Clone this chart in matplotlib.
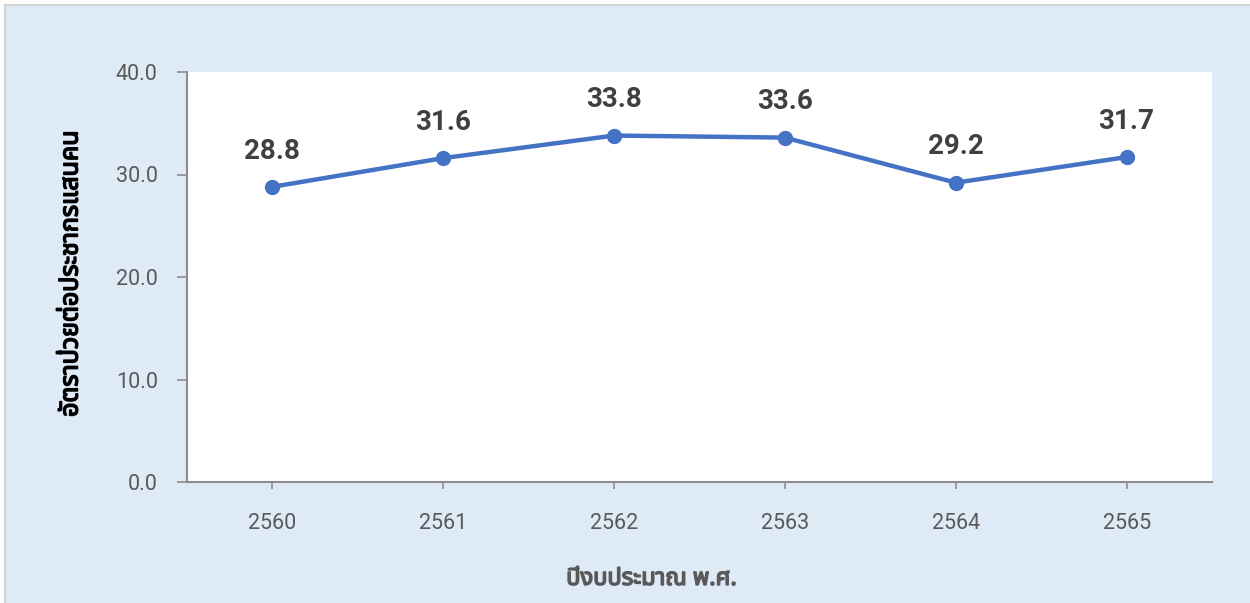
#!/usr/bin/env python3
"""
Line chart: morbidity rate per 100,000 population by fiscal year (B.E.)
"""

import matplotlib
matplotlib.use('Agg')
import matplotlib.pyplot as plt
import matplotlib.patches as patches
import matplotlib.patheffects as pe
from matplotlib import font_manager
from fontTools.ttLib import TTFont

# Data
years = ['2560', '2561', '2562', '2563', '2564', '2565']
rates = [28.8, 31.6, 33.8, 33.6, 29.2, 31.7]
y_ticks = [0, 10, 20, 30, 40]
x_title = 'ปีงบประมาณ พ.ศ.'
y_title = 'อัตราป่วยต่อประชากรแสนคน'


def find_thai_fonts():
    """All installed fonts that carry Thai glyphs"""
    found = []
    for path in font_manager.findSystemFonts():
        try:
            f = TTFont(path, fontNumber=0, lazy=True)
            cmap = f.getBestCmap()
            if cmap and 0x0E01 in cmap and 0x0E1B in cmap:
                found.append(font_manager.FontProperties(fname=path).get_name())
        except Exception:
            continue
    return sorted(set(found))


def pick(names):
    def score(n):
        s = 0
        low = n.lower()
        if 'mono' in low or 'courier' in low or 'typewriter' in low:
            s -= 10
        if 'thai' in low:
            s += 5
        if 'noto sans' in low or 'loma' in low or 'garuda' in low:
            s += 3
        if 'looped' in low or 'ui' in low:
            s -= 1
        return s
    return sorted(names, key=score, reverse=True)


thai_list = pick(find_thai_fonts())
thai_families = thai_list[:1] + ['Roboto', 'DejaVu Sans']
plt.rcParams['font.family'] = ['Roboto', 'DejaVu Sans']

fig = plt.figure(figsize=(12.5, 6.03), dpi=100)
fig.patch.set_facecolor('white')

# light blue panel with a thin grey border
panel = patches.Rectangle((5 / 1250, -0.01), 1.0, 1 - 5 / 603 + 0.01,
                          transform=fig.transFigure, facecolor='#DEEAF6',
                          edgecolor='#D4D4D4', linewidth=1.5, zorder=-5)
fig.patches.append(panel)

ax = fig.add_axes([187 / 1250, 121 / 603, 1025 / 1250, 410 / 603])
ax.set_zorder(1)
ax.set_facecolor('white')

x = list(range(len(years)))
ax.plot(x, rates, color='#4472C4', linewidth=3.2, marker='o',
        markersize=10, solid_capstyle='round', zorder=3)

for xi, v in zip(x, rates):
    ax.annotate(f'{v:.1f}', (xi, v), xytext=(0, 16), textcoords='offset points',
                ha='center', va='bottom', fontsize=20, fontweight='bold',
                color='#404040')

ax.set_xlim(-0.5, len(years) - 0.5)
ax.set_ylim(0, 40)
ax.set_xticks(x)
ax.set_xticklabels(years)
ax.set_yticks(y_ticks)
ax.set_yticklabels([f'{t:.1f}' for t in y_ticks])

for side in ['top', 'right']:
    ax.spines[side].set_visible(False)
for side in ['left', 'bottom']:
    ax.spines[side].set_color('#8C8C8C')
    ax.spines[side].set_linewidth(1.5)

ax.tick_params(axis='y', length=7, width=1.2, color='#8C8C8C', pad=14,
               labelsize=15.5, labelcolor='#595959')
ax.tick_params(axis='x', length=5, width=1.2, color='#8C8C8C', pad=17,
               labelsize=15.5, labelcolor='#595959')

# Thai font has no bold face here, so thicken the strokes a bit
xl = ax.set_xlabel(x_title, fontsize=17, fontweight='bold', color='#595959',
                   family=thai_families)
xl.set_path_effects([pe.withStroke(linewidth=1.1, foreground='#595959')])
ax.xaxis.set_label_coords(0.453, -0.207)
yl = ax.set_ylabel(y_title, fontsize=18, fontweight='bold', color='black',
                   family=thai_families)
yl.set_path_effects([pe.withStroke(linewidth=1.1, foreground='black')])
ax.yaxis.set_label_coords(-0.101, 0.507)

fig.savefig('out.png', dpi=100, facecolor=fig.get_facecolor())
